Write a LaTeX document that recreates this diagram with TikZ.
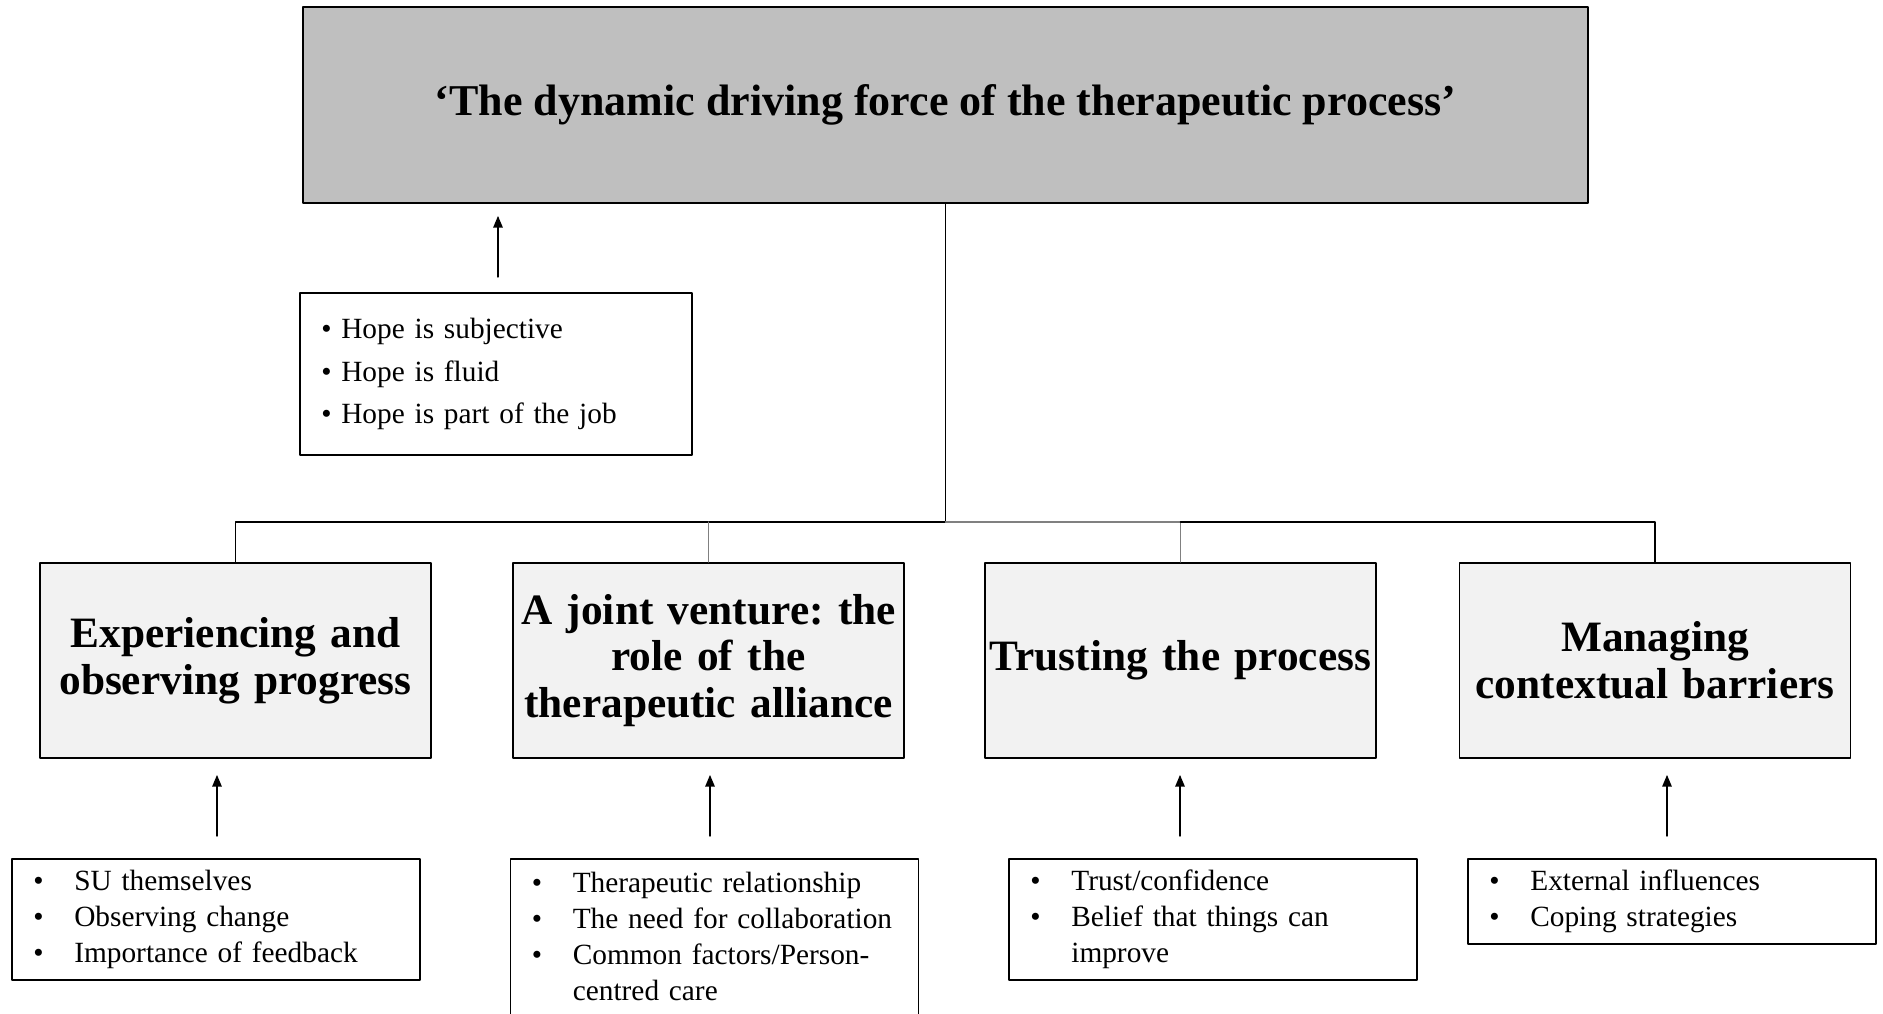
\documentclass[tikz,border=0pt]{standalone}
\usepackage{fontspec}
\setmainfont{Liberation Serif}
\usetikzlibrary{arrows}
\usetikzlibrary{positioning}
\frenchspacing
\definecolor{coregray}{RGB}{191,191,191}
\definecolor{themegray}{RGB}{242,242,242}
\newcommand{\bul}[2][30.75pt]{\makebox[#1][l]{\textbullet}#2}
\tikzset{
  corebox/.style={draw=black,line width=1.3pt,fill=coregray,minimum width=963.75pt,minimum height=147pt,
    font=\fontsize{33}{36}\selectfont\bfseries},
  themebox/.style={draw=black,line width=1.3pt,fill=themegray,minimum width=293.25pt,minimum height=146.25pt,
    inner sep=1pt,text width=290pt,align=center,font=\fontsize{32.5}{35}\selectfont\bfseries},
  listbox/.style={draw=black,line width=1.1pt,fill=white,minimum width=306pt,inner xsep=16pt,
    text width=274pt,align=left,font=\fontsize{22}{27}\selectfont},
  link/.style={line width=1.1pt},
  faint/.style={line width=0.9pt,color=gray}
}
\begin{document}
\begin{tikzpicture}[line cap=round,line join=round,>=triangle 45,x=0.75pt,y=-0.75pt]
\useasboundingbox (0,0) rectangle (1883,1013);
\node[corebox] (core) at (945.5,105) {‘The dynamic driving force of the therapeutic process’};
\node[listbox,minimum width=294pt,minimum height=121.5pt,text width=262pt,font=\fontsize{22}{32}\selectfont] (hope) at (496,374)
  {\bul[15pt]{Hope is subjective}\\ \bul[15pt]{Hope is fluid}\\ \bul[15pt]{Hope is part of the job}};
\node[themebox] (progress) at (235.5,660.5) {Experiencing and\\observing progress};
\node[themebox] (alliance) at (708.5,660.5) {A joint venture: the\\role of the\\therapeutic alliance};
\node[themebox] (trust) at (1180.5,660.5) {Trusting the process};
\node[themebox] (barriers) at (1655,660.5) {Managing\\contextual barriers};
\node[listbox,minimum height=90.75pt] (progresslist) at (216,919.5)
  {\bul{SU themselves}\\ \bul{Observing change}\\ \bul{Importance of feedback}};
% runs off the bottom edge
\node[listbox,minimum height=142.5pt] (alliancelist) at (714.5,954)
  {\bul{Therapeutic relationship}\\ \bul{The need for collaboration}\\ \bul{Common factors/Person-}\\ \hspace*{30.75pt}centred care\\ \mbox{}};
\node[listbox,minimum height=90.75pt] (trustlist) at (1213,919.5)
  {\bul{Trust/confidence}\\ \bul{Belief that things can}\\ \hspace*{30.75pt}improve};
\node[listbox,minimum height=63.75pt] (barrierslist) at (1672,901.5)
  {\bul{External influences}\\ \bul{Coping strategies}};
% tree from the core theme
\coordinate (bus) at (945.5,522);
\draw[link] (core.south) -- (bus);
\draw[link] (bus) -| (progress.north);
\draw[faint] (alliance.north |- bus) -- (alliance.north);
\draw[faint] (bus) -| (trust.north);
\draw[link] (trust.north |- bus) -| (barriers.north);
% subthemes feeding up
\coordinate (hopetail) at (498,277);
\coordinate (hopetip) at (498,216);
\draw[->,line width=1pt] (hopetail) -- (hopetip);
\foreach \x [count=\i] in {217,710,1180,1667}
{
\coordinate (tail\i) at (\x,836);
\coordinate (tip\i) at (\x,775);
\draw[->,line width=1pt] (tail\i) -- (tip\i);
}
\end{tikzpicture}
\end{document}
